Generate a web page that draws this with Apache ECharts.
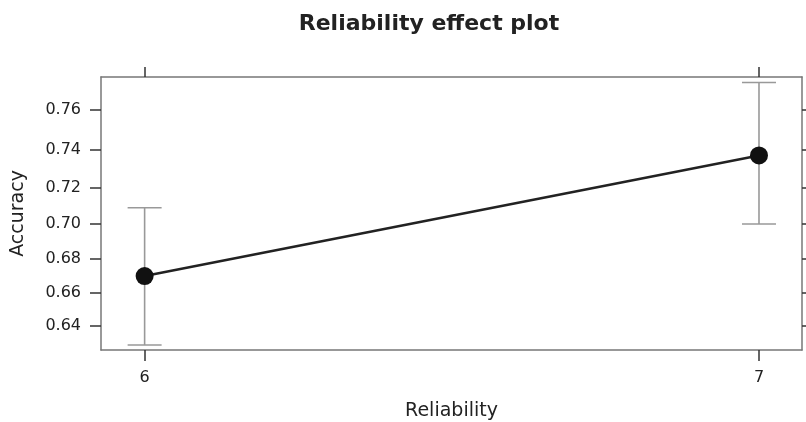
<!DOCTYPE html>
<html>
<head>
<meta charset="utf-8">
<script src="https://cdn.jsdelivr.net/npm/echarts@6/dist/echarts.min.js"></script>
<style>html,body{margin:0;padding:0;background:#fff}#c{width:806px;height:422px}</style>
</head>
<body>
<div id="c"></div>
<script>
// Data (probability scale)
var categories = [6, 7];
var fitValues = [0.670, 0.737];
var lowerValues = [0.628, 0.700];
var upperValues = [0.709, 0.773];
var yTickLabels = [0.64, 0.66, 0.68, 0.70, 0.72, 0.74, 0.76];

function logit(p){ return Math.log(p/(1-p)); }
function invLogit(v){ return 1/(1+Math.exp(-v)); }

var yTicks = yTickLabels.map(logit);
var lineData = categories.map(function(c,i){ return [c, logit(fitValues[i])]; });
var barData = categories.map(function(c,i){ return [c, logit(lowerValues[i]), logit(upperValues[i])]; });

var frame = '#777';
var tickCol = '#333';
var font = "'DejaVu Sans', sans-serif";
var yMin = 0.5104, yMax = 1.2402, xMin = 5.929, xMax = 7.070;

var chart = echarts.init(document.getElementById('c'));
chart.setOption({
  animation: false,
  title: {
    text: 'Reliability effect plot',
    left: 424, top: 8, textAlign: 'center',
    textStyle: {fontFamily: font, fontSize: 22, fontWeight: 'bold', color: '#222'}
  },
  grid: {left: 101, right: 4, top: 77, bottom: 72, outerBoundsMode: 'none', containLabel: false},
  xAxis: [{
    type: 'value', position: 'bottom', min: xMin, max: xMax,
    name: 'Reliability', nameLocation: 'middle', nameGap: 52,
    nameTextStyle: {fontFamily: font, fontSize: 19, color: '#222'},
    axisLine: {show: true, lineStyle: {color: frame, width: 1.5}},
    axisTick: {show: true, length: 11, customValues: categories, lineStyle: {color: tickCol, width: 1.5}},
    axisLabel: {show: true, margin: 20, customValues: categories, fontFamily: font, fontSize: 16, color: '#222'},
    splitLine: {show: false}
  }, {
    type: 'value', position: 'top', min: xMin, max: xMax,
    axisLine: {show: true, lineStyle: {color: frame, width: 1.5}},
    axisTick: {show: true, length: 10, customValues: categories, lineStyle: {color: tickCol, width: 1.5}},
    axisLabel: {show: false},
    splitLine: {show: false}
  }],
  yAxis: [{
    type: 'value', position: 'left', min: yMin, max: yMax,
    name: 'Accuracy', nameLocation: 'middle', nameGap: 73, nameRotate: 90,
    nameTextStyle: {fontFamily: font, fontSize: 19, color: '#222'},
    axisLine: {show: true, lineStyle: {color: frame, width: 1.5}},
    axisTick: {show: true, length: 11, customValues: yTicks, lineStyle: {color: tickCol, width: 1.5}},
    axisLabel: {show: true, margin: 20, customValues: yTicks, fontFamily: font, fontSize: 16, color: '#222',
      formatter: function(v){ return invLogit(v).toFixed(2); }},
    splitLine: {show: false}
  }, {
    type: 'value', position: 'right', min: yMin, max: yMax,
    axisLine: {show: true, lineStyle: {color: frame, width: 1.5}},
    axisTick: {show: true, length: 8, customValues: yTicks, lineStyle: {color: tickCol, width: 1.5}},
    axisLabel: {show: false},
    splitLine: {show: false}
  }],
  series: [{
    type: 'custom',
    xAxisIndex: 0, yAxisIndex: 0,
    data: barData,
    renderItem: function(params, api){
      var x = api.value(0);
      var pLo = api.coord([x, api.value(1)]);
      var pHi = api.coord([x, api.value(2)]);
      var hw = 17;
      var st = {stroke: '#999', lineWidth: 1.6};
      return {type: 'group', children: [
        {type: 'line', shape: {x1: pLo[0], y1: pLo[1], x2: pHi[0], y2: pHi[1]}, style: st},
        {type: 'line', shape: {x1: pLo[0]-hw, y1: pLo[1], x2: pLo[0]+hw, y2: pLo[1]}, style: st},
        {type: 'line', shape: {x1: pHi[0]-hw, y1: pHi[1], x2: pHi[0]+hw, y2: pHi[1]}, style: st}
      ]};
    }
  }, {
    type: 'line',
    xAxisIndex: 0, yAxisIndex: 0,
    data: lineData,
    symbol: 'circle', symbolSize: 18,
    lineStyle: {color: '#222', width: 2.5},
    itemStyle: {color: '#111'}
  }]
});
</script>
</body>
</html>
